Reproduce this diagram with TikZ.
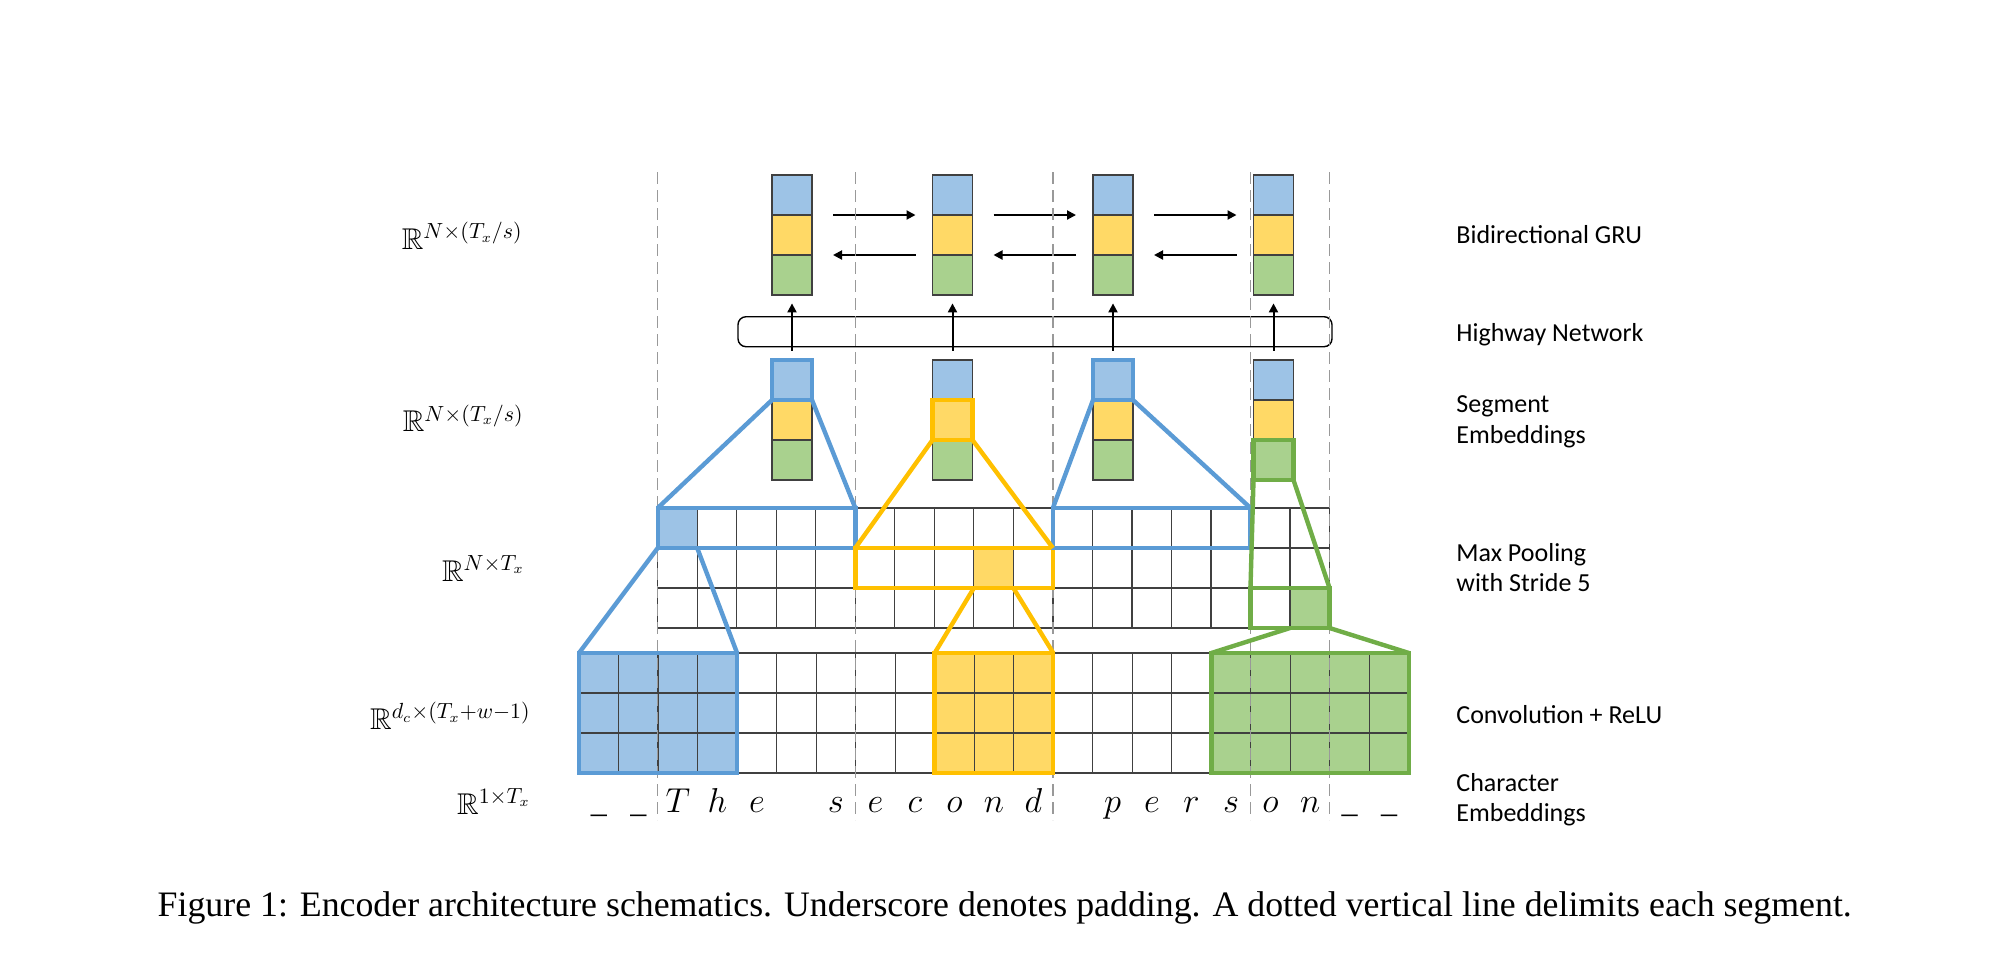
\documentclass[tikz,border=0pt]{standalone}
\usepackage[no-math]{fontspec}
\usepackage{amssymb}
\setmainfont{Liberation Serif}
\newfontfamily\calfont{Carlito}
\usetikzlibrary{positioning,arrows.meta}
\definecolor{blfill}{HTML}{9DC3E6}
\definecolor{blline}{HTML}{5B9BD5}
\definecolor{yefill}{HTML}{FFD966}
\definecolor{yeline}{HTML}{FFC000}
\definecolor{grfill}{HTML}{A9D18E}
\definecolor{grline}{HTML}{70AD47}
\tikzset{%
  cell/.style={rectangle,draw=black!75,line width=.6pt,inner sep=0pt,outer sep=0pt,
    minimum width=20pt,minimum height=20pt},
  cellb/.style={cell,fill=blfill},
  celly/.style={cell,fill=yefill},
  cellg/.style={cell,fill=grfill},
  area/.style={rectangle,inner sep=0pt,outer sep=0pt,minimum height=20pt},
  hlb/.style={draw=blline,line width=2.2pt},
  hly/.style={draw=yeline,line width=2.2pt},
  hlg/.style={draw=grline,line width=2.2pt},
  gridln/.style={draw=black!75,line width=.6pt},
  seg/.style={draw=black!40,line width=.7pt,dash pattern=on 6pt off 3pt},
  flow/.style={line width=1pt,-{Triangle[length=4.5pt,width=4.5pt]}},
  highway/.style={rectangle,draw,line width=.7pt,rounded corners=4pt,inner sep=0pt,
    minimum width=297pt,minimum height=15pt},
  rlabel/.style={font=\calfont\fontsize{13}{15.2}\selectfont,inner sep=0pt,align=left},
  mlabel/.style={font=\fontsize{15}{18}\selectfont,inner sep=0pt},
  chr/.style={font=\fontsize{16}{19}\selectfont,inner sep=0pt}
}

\begin{document}
\begin{tikzpicture}[x=.5pt,y=-.5pt]
  \useasboundingbox (0,0) rectangle (2002,960);

  % stacks: GRU states and segment embeddings
  \foreach \i/\x in {1/792,2/952.5,3/1113,4/1273.5} {
    \node[cellb] (gb\i) at (\x,195) {};
    \node[celly] (gy\i) at (\x,235) {};
    \node[cellg] (gg\i) at (\x,275) {};
    \node[cellb] (sb\i) at (\x,380) {};
    \node[celly] (sy\i) at (\x,420) {};
    \node[cellg] (sg\i) at (\x,460) {};
  }
  \foreach \i/\j in {1/2,2/3,3/4} {
    \draw[flow,shorten <=10.5pt,shorten >=8.5pt] (gb\i.south east) -- (gb\j.south west);
    \draw[flow,shorten <=8.5pt,shorten >=10.5pt] (gy\j.south west) -- (gy\i.south east);
  }
  \node[highway] (hw) at (1035,331.7) {};
  \foreach \i in {1,...,4}
    \draw[flow,shorten <=4.6pt,shorten >=4.2pt] (sb\i.north) -- (gg\i.south);

  % filled areas
  \node[area,fill=blfill,minimum width=19.76pt] (pcb) at (677.46,528) {};
  \node[area,fill=yefill,minimum width=19.76pt] (pcy) at (993.62,568) {};
  \node[area,fill=grfill,minimum width=19.76pt] (pcg) at (1309.78,608) {};
  \node[area,fill=blfill,minimum width=79.04pt,minimum height=60pt] (cb) at (658.04,713) {};
  \node[area,fill=yefill,minimum width=59.28pt,minimum height=60pt] (cy) at (993.96,713) {};
  \node[area,fill=grfill,minimum width=98.8pt,minimum height=60pt] (cg) at (1310.12,713) {};
  \node[area,minimum width=98.8pt] (pb1) at (756.5,528) {};
  \node[area,minimum width=98.8pt] (py2) at (954.1,568) {};
  \node[area,minimum width=98.8pt] (pb3) at (1151.7,528) {};
  \node[area,minimum width=39.52pt] (pg4) at (1290,608) {};

  % max pooling and convolution grids
  \foreach \r in {0,...,3} {
    \draw[gridln] (657.7,{508+40*\r}) -- (1329.5,{508+40*\r});
    \draw[gridln] (579,{653+40*\r}) -- (1408.9,{653+40*\r});
  }
  \foreach \c in {0,...,17}
    \draw[gridln] ({657.7+39.52*\c},508) -- ++(0,120);
  \foreach \c in {0,...,21}
    \draw[gridln] ({579+39.52*\c},653) -- ++(0,120);

  % segment boundaries
  \foreach \x in {657.7,855.3,1052.9,1250.5,1329.5}
    \draw[seg] (\x,172) -- (\x,820);

  % highlighted regions
  \draw[hlb] (sb1.north west) rectangle (sb1.south east);
  \draw[hly] (sy2.north west) rectangle (sy2.south east);
  \draw[hlb] (sb3.north west) rectangle (sb3.south east);
  \draw[hlg] (sg4.north west) rectangle (sg4.south east);
  \draw[hlb] (pb1.north west) rectangle (pb1.south east);
  \draw[hly] (py2.north west) rectangle (py2.south east);
  \draw[hlb] (pb3.north west) rectangle (pb3.south east);
  \draw[hlg] (pg4.north west) rectangle (pg4.south east);
  \draw[hlb] (cb.north west) rectangle (cb.south east);
  \draw[hly] (cy.north west) rectangle (cy.south east);
  \draw[hlg] (cg.north west) rectangle (cg.south east);

  \draw[hlb] (sb1.south west) -- (pb1.north west) (sb1.south east) -- (pb1.north east);
  \draw[hly] (sy2.south west) -- (py2.north west) (sy2.south east) -- (py2.north east);
  \draw[hlb] (sb3.south west) -- (pb3.north west) (sb3.south east) -- (pb3.north east);
  \draw[hlg] (sg4.south west) -- (pg4.north west) (sg4.south east) -- (pg4.north east);
  \draw[hlb] (pcb.south west) -- (cb.north west) (pcb.south east) -- (cb.north east);
  \draw[hly] (pcy.south west) -- (cy.north west) (pcy.south east) -- (cy.north east);
  \draw[hlg] (pcg.south west) -- (cg.north west) (pcg.south east) -- (cg.north east);

  % characters
  \foreach \c/\ch in {0/\_,1/\_,2/$T$,3/$h$,4/$e$,6/$s$,7/$e$,8/$c$,9/$o$,10/$n$,11/$d$,
      13/$p$,14/$e$,15/$r$,16/$s$,17/$o$,18/$n$,19/\_,20/\_}
    \node[chr,anchor=base] (ch\c) at ({579+39.52*(\c+0.5)},812) {\ch};

  % dimensions
  \node[mlabel,anchor=base east] (dgru) at (523,249.3) {$\mathbb{R}^{N\times(T_x/s)}$};
  \node[mlabel,anchor=base east] (dseg) at (524,431.7) {$\mathbb{R}^{N\times(T_x/s)}$};
  \node[mlabel,anchor=base east] (dpool) at (525,581) {$\mathbb{R}^{N\times T_x}$};
  \node[mlabel,anchor=base east] (dconv) at (531,729.3) {$\mathbb{R}^{d_c\times(T_x+w-1)}$};
  \node[mlabel,anchor=base east] (dchar) at (531,814) {$\mathbb{R}^{1\times T_x}$};

  % layer names
  \node[rlabel,anchor=base west] (lgru) at (1456,243.3) {Bidirectional GRU};
  \node[rlabel,anchor=base west] (lhw) at (1456,341.7) {Highway Network};
  \node[rlabel,anchor=base west] (lseg) at (1456,443) {Segment\\Embeddings};
  \node[rlabel,anchor=base west] (lpool) at (1456,591.7) {Max Pooling\\with Stride 5};
  \node[rlabel,anchor=base west] (lconv) at (1456,723.3) {Convolution + ReLU};
  \node[rlabel,anchor=base west] (lchar) at (1456,821.7) {Character\\Embeddings};

  \node[font=\fontsize{17.9}{21}\selectfont,inner sep=0pt,anchor=base] (cap) at (1004.7,916)
    {Figure 1: Encoder architecture schematics. Underscore denotes padding. A dotted vertical line delimits each segment.};
\end{tikzpicture}
\end{document}
